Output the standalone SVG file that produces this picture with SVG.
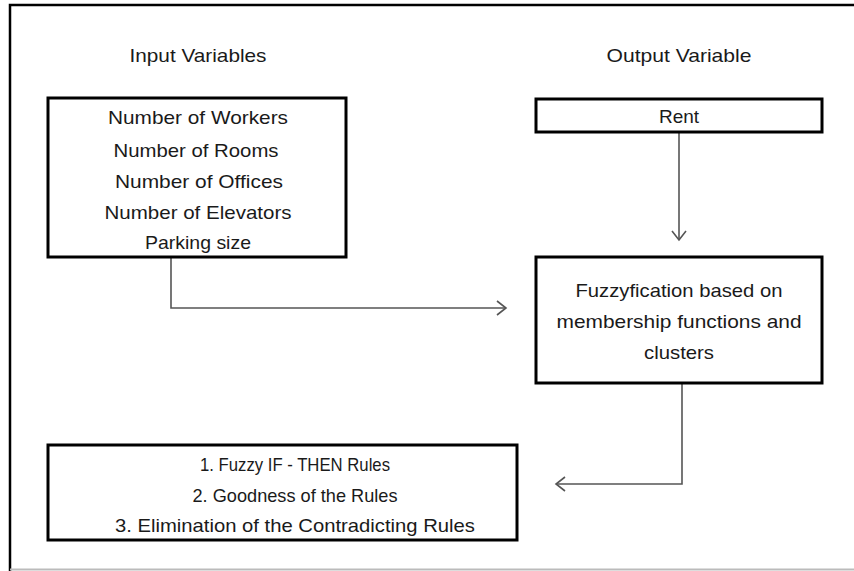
<svg xmlns="http://www.w3.org/2000/svg" width="854" height="571" viewBox="0 0 854 571">
<style>
.t{font-family:"Liberation Sans",Arial,sans-serif;font-size:19px;fill:#1a1a1a;text-anchor:middle}
.r{font-size:19px}
.box{fill:#fff;stroke:#000;stroke-width:3}
.con{fill:none;stroke:#555;stroke-width:1.6}
</style>
<defs>
<marker id="ah" markerUnits="userSpaceOnUse" markerWidth="20" markerHeight="20" viewBox="-12 -10 14 20" refX="0" refY="0" orient="auto">
<path d="M-9,-7 L0,0 L-9,7" fill="none" stroke="#555" stroke-width="1.6"/>
</marker>
</defs>
<rect x="0" y="0" width="854" height="571" fill="#fff"/>
<g id="frame">
<path d="M10,571 V5 H854" fill="none" stroke="#000" stroke-width="2.5"/>
<line x1="10" y1="569.5" x2="854" y2="569.5" stroke="#bbb" stroke-width="2"/>
</g>
<g id="titles">
<text class="t" x="198" y="62" textLength="137" lengthAdjust="spacingAndGlyphs">Input Variables</text>
<text class="t" x="679" y="62" textLength="145" lengthAdjust="spacingAndGlyphs">Output Variable</text>
</g>
<g id="connectors">
<path class="con" d="M171,257 V308 H506" marker-end="url(#ah)"/>
<path class="con" d="M679,132 V240" marker-end="url(#ah)"/>
<path class="con" d="M682,383 V484 H556" marker-end="url(#ah)"/>
</g>
<g id="inputs">
<rect class="box" x="48" y="98" width="298" height="159"/>
<text class="t" x="198" y="124" textLength="180" lengthAdjust="spacingAndGlyphs">Number of Workers</text>
<text class="t" x="196" y="157" textLength="165" lengthAdjust="spacingAndGlyphs">Number of Rooms</text>
<text class="t" x="199" y="188" textLength="168" lengthAdjust="spacingAndGlyphs">Number of Offices</text>
<text class="t" x="198" y="219" textLength="187" lengthAdjust="spacingAndGlyphs">Number of Elevators</text>
<text class="t" x="198" y="249" textLength="106" lengthAdjust="spacingAndGlyphs">Parking size</text>
</g>
<g id="rent">
<rect class="box" x="536" y="99" width="286" height="33"/>
<text class="t" x="679" y="123">Rent</text>
</g>
<g id="fuzzy">
<rect class="box" x="536" y="257" width="286" height="126"/>
<text class="t" x="679" y="297" textLength="207" lengthAdjust="spacingAndGlyphs">Fuzzyfication based on</text>
<text class="t" x="679" y="328" textLength="245" lengthAdjust="spacingAndGlyphs">membership functions and</text>
<text class="t" x="679" y="359" textLength="70" lengthAdjust="spacingAndGlyphs">clusters</text>
</g>
<g id="rules">
<rect class="box" x="48" y="445" width="469" height="95"/>
<text class="t r" x="295" y="471" textLength="190" lengthAdjust="spacingAndGlyphs">1. Fuzzy IF - THEN Rules</text>
<text class="t r" x="295" y="502" textLength="205" lengthAdjust="spacingAndGlyphs">2. Goodness of the Rules</text>
<text class="t r" x="295" y="532" textLength="360" lengthAdjust="spacingAndGlyphs">3. Elimination of the Contradicting Rules</text>
</g>
</svg>
